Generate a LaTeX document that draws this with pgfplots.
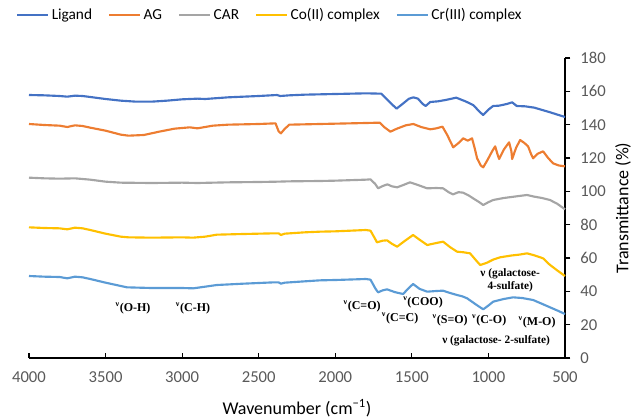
\documentclass[border=0pt]{standalone}
\usepackage{pgfplots}
\pgfplotsset{compat=1.18}
\usepackage{fontspec}
\setmainfont{Carlito}
\newfontfamily\tnr{Liberation Serif}

\definecolor{cLig}{HTML}{4472C4}
\definecolor{cAG}{HTML}{ED7D31}
\definecolor{cCAR}{HTML}{A5A5A5}
\definecolor{cCo}{HTML}{FFC000}
\definecolor{cCr}{HTML}{5B9BD5}
\definecolor{tickgray}{HTML}{595959}

\newcommand{\vib}[1]{\textsuperscript{ν}#1}

\begin{document}
\begin{tikzpicture}
\begin{axis}[
  scale only axis, width=402pt, height=225pt,
  x dir=reverse, xmin=500, xmax=4000, ymin=0, ymax=180,
  xtick={500,1000,...,4000}, ytick={0,20,...,180},
  axis x line=bottom, axis y line=right, axis line style={-, black, line width=0.8pt},
  tick align=outside, major tick length=4pt,
  tick style={black, line width=0.8pt},
  major x tick style={yshift=4pt},
  /pgf/number format/1000 sep={},
  /pgf/number format/assume math mode=true,
  ticklabel style={font=\fontsize{12.5}{14}\selectfont, text=tickgray},
  x tick label style={yshift=-3pt},
  y tick label style={xshift=4pt},
  xlabel={Wavenumber (cm\textsuperscript{−1})},
  ylabel={Transmittance (\%)},
  label style={font=\fontsize{13.5}{16}\selectfont},
  xlabel style={at={(rel axis cs:0.5,0)}, anchor=center, yshift=-37.5pt},
  ylabel style={at={(rel axis cs:1,0.5)}, anchor=center, yshift=-43.5pt},
  legend columns=5,
  legend style={draw=none, fill=none, font=\fontsize{11.5}{13}\selectfont,
    at={(rel axis cs:0.45,1.143)}, anchor=center,
    /tikz/every even column/.append style={column sep=10pt}},
  legend image code/.code={\draw[#1, line width=1.7pt] (0pt,0pt) -- (23pt,0pt);},
  every axis plot/.append style={line width=1.6pt, line join=round},
  clip=false,
]
\addplot[cLig] coordinates {
(4000,157.8)(3900,157.6)(3800,157.2)(3750,156.8)(3700,157.4)(3650,157.2)(3600,156.6)(3500,155.4)
(3400,154.4)(3300,153.8)(3200,153.8)(3100,154.4)(3000,155.2)(2900,155.6)(2850,155.4)(2700,156.4)
(2500,157.2)(2380,157.8)(2360,157.2)(2300,157.6)(2200,158)(2000,158.4)(1800,158.8)(1700,158.6)
(1650,154)(1600,149.6)(1560,152.5)(1520,155.5)(1490,156.4)(1460,155.6)(1430,152.5)(1410,151.2)
(1380,153.6)(1330,154)(1280,154.8)(1210,156.2)(1150,154)(1100,151.8)(1060,148)(1035,145.8)
(1000,149)(970,151.2)(930,151.4)(880,152.4)(845,153.4)(815,151.2)(760,151)(700,150.2)
(600,147.5)(500,144.6)};
\addlegendentry{Ligand}
\addplot[cAG] coordinates {
(4000,140.4)(3900,139.8)(3800,139.4)(3750,138.6)(3700,139.6)(3650,139.2)(3600,138.2)(3500,136.4)
(3400,134)(3350,133.4)(3250,133.8)(3150,135.8)(3050,137.6)(2950,138.4)(2900,137.8)(2800,139.4)
(2700,140)(2500,140.4)(2390,140.8)(2370,136)(2355,134.8)(2330,137.5)(2300,140)(2200,140.2)
(2000,140.6)(1800,141)(1710,141.2)(1680,138.5)(1640,135.8)(1600,137.5)(1540,139.6)(1490,140.4)
(1440,138.6)(1380,137.2)(1340,137.8)(1300,138.8)(1270,134)(1230,126.4)(1195,129)(1165,131.8)
(1135,130.4)(1107,131.8)(1090,126)(1074,119.8)(1050,115.5)(1034,114.4)(1005,119)(976,124)
(956,127)(940,122)(930,119.4)(900,125)(865,129.4)(850,124)(845,119.4)(820,126)(793,130.8)
(765,129)(741,127)(720,122)(708,119.8)(680,122.5)(643,124)(610,120)(578,116.8)(540,115.5)
(500,115)};
\addlegendentry{AG}
\addplot[cCAR] coordinates {
(4000,108.2)(3900,107.8)(3800,107.6)(3700,107.8)(3600,107)(3500,105.8)(3400,105.2)(3200,105)
(3000,105.2)(2900,105)(2700,105.4)(2500,105.6)(2380,105.8)(2300,106)(2100,106.2)(2000,106.4)
(1800,107)(1770,107.2)(1740,104.5)(1720,101.8)(1690,103.2)(1660,104.2)(1630,103)(1596,102.4)
(1550,104)(1512,105.4)(1460,103.8)(1400,101.8)(1340,102)(1296,101.8)(1260,99.5)(1231,98.2)
(1195,99.5)(1165,99.2)(1130,97.6)(1100,95.8)(1060,93.5)(1034,91.8)(1000,93.5)(969,94.8)
(900,96)(850,96.6)(800,97.2)(748,97.8)(700,96.8)(650,96)(598,94.8)(550,92.5)(500,89.2)};
\addlegendentry{CAR}
\addplot[cCo] coordinates {
(4000,78.4)(3900,78)(3800,77.8)(3750,77.2)(3700,78.2)(3650,77.8)(3600,76.8)(3500,74.6)
(3400,72.8)(3350,72.4)(3200,72.2)(3000,72.4)(2930,72.2)(2850,72.8)(2773,74)(2600,74.4)
(2400,74.8)(2370,74.8)(2355,73.8)(2330,74.6)(2200,75.4)(2100,75.8)(2000,76)(1800,76.8)
(1770,76.4)(1740,71.5)(1728,69.4)(1690,70.4)(1662,70.6)(1630,68.5)(1596,66.8)(1550,70)
(1492,73.8)(1450,71)(1400,67.8)(1340,69)(1296,69.8)(1250,66.5)(1205,63.8)(1160,63.4)
(1120,62.8)(1080,58.5)(1054,55.8)(1030,56.5)(1009,57.2)(970,59)(924,60.4)(850,61.5)
(800,62)(748,62.8)(700,61.6)(643,59.8)(600,56)(550,52.5)(500,49.2)};
\addlegendentry{Co(II) complex}
\addplot[cCr] coordinates {
(4000,49.2)(3900,48.8)(3800,48.6)(3750,47.8)(3700,48.8)(3650,48.4)(3600,47.4)(3500,45.2)
(3400,43.2)(3360,42.4)(3200,42)(3000,42)(2927,41.8)(2850,42.8)(2773,43.8)(2600,44.6)
(2400,45.4)(2370,45.4)(2355,44.6)(2330,45.2)(2200,46)(2100,46.6)(2000,46.8)(1800,47.4)
(1770,47)(1740,42)(1721,39.4)(1690,40.6)(1662,41.2)(1610,39.5)(1557,38.4)(1520,42)
(1492,44.4)(1450,41.5)(1400,39.8)(1340,40.2)(1296,40.4)(1250,39)(1205,37.8)(1170,37)
(1139,35.8)(1080,32)(1034,29.2)(1000,31.5)(969,33.8)(900,35.4)(839,36.4)(780,36)
(708,34.8)(650,32.5)(600,30.5)(550,28.5)(500,26.4)};
\addlegendentry{Cr(III) complex}

% band assignments
\begin{scope}[every node/.style={font=\tnr\bfseries\fontsize{9}{10}\selectfont, inner sep=1pt}]
\node at (axis cs:3321,30) {\vib{(O-H)}};
\node at (axis cs:2929,30) {\vib{(C-H)}};
\node at (axis cs:1825,30.8) {\vib{(C=O)}};
\node at (axis cs:1577,23.8) {\vib{(C=C)}};
\node at (axis cs:1427,33.2) {\vib{(COO)}};
\node at (axis cs:1250,22.8) {\vib{(S=O)}};
\node at (axis cs:995,22.8) {\vib{(C-O)}};
\node at (axis cs:682,21.4) {\vib{(M-O)}};
\node[fill=white, font=\tnr\bfseries\fontsize{8.5}{10}\selectfont] at (axis cs:950,10.4) {ν (galactose- 2-sulfate)};
\node[fill=white, align=center, font=\tnr\bfseries\fontsize{8.5}{10}\selectfont] at (axis cs:858,46.8) {ν (galactose-\\4-sulfate)};
\end{scope}

\coordinate (sw) at (rel axis cs:0,0);
\coordinate (ne) at (rel axis cs:1,1);
\end{axis}
\pgfresetboundingbox
\path[use as bounding box] ([shift={(-21.75pt,-45pt)}]sw) rectangle ([shift={(51pt,43.5pt)}]ne);
\end{tikzpicture}
\end{document}
